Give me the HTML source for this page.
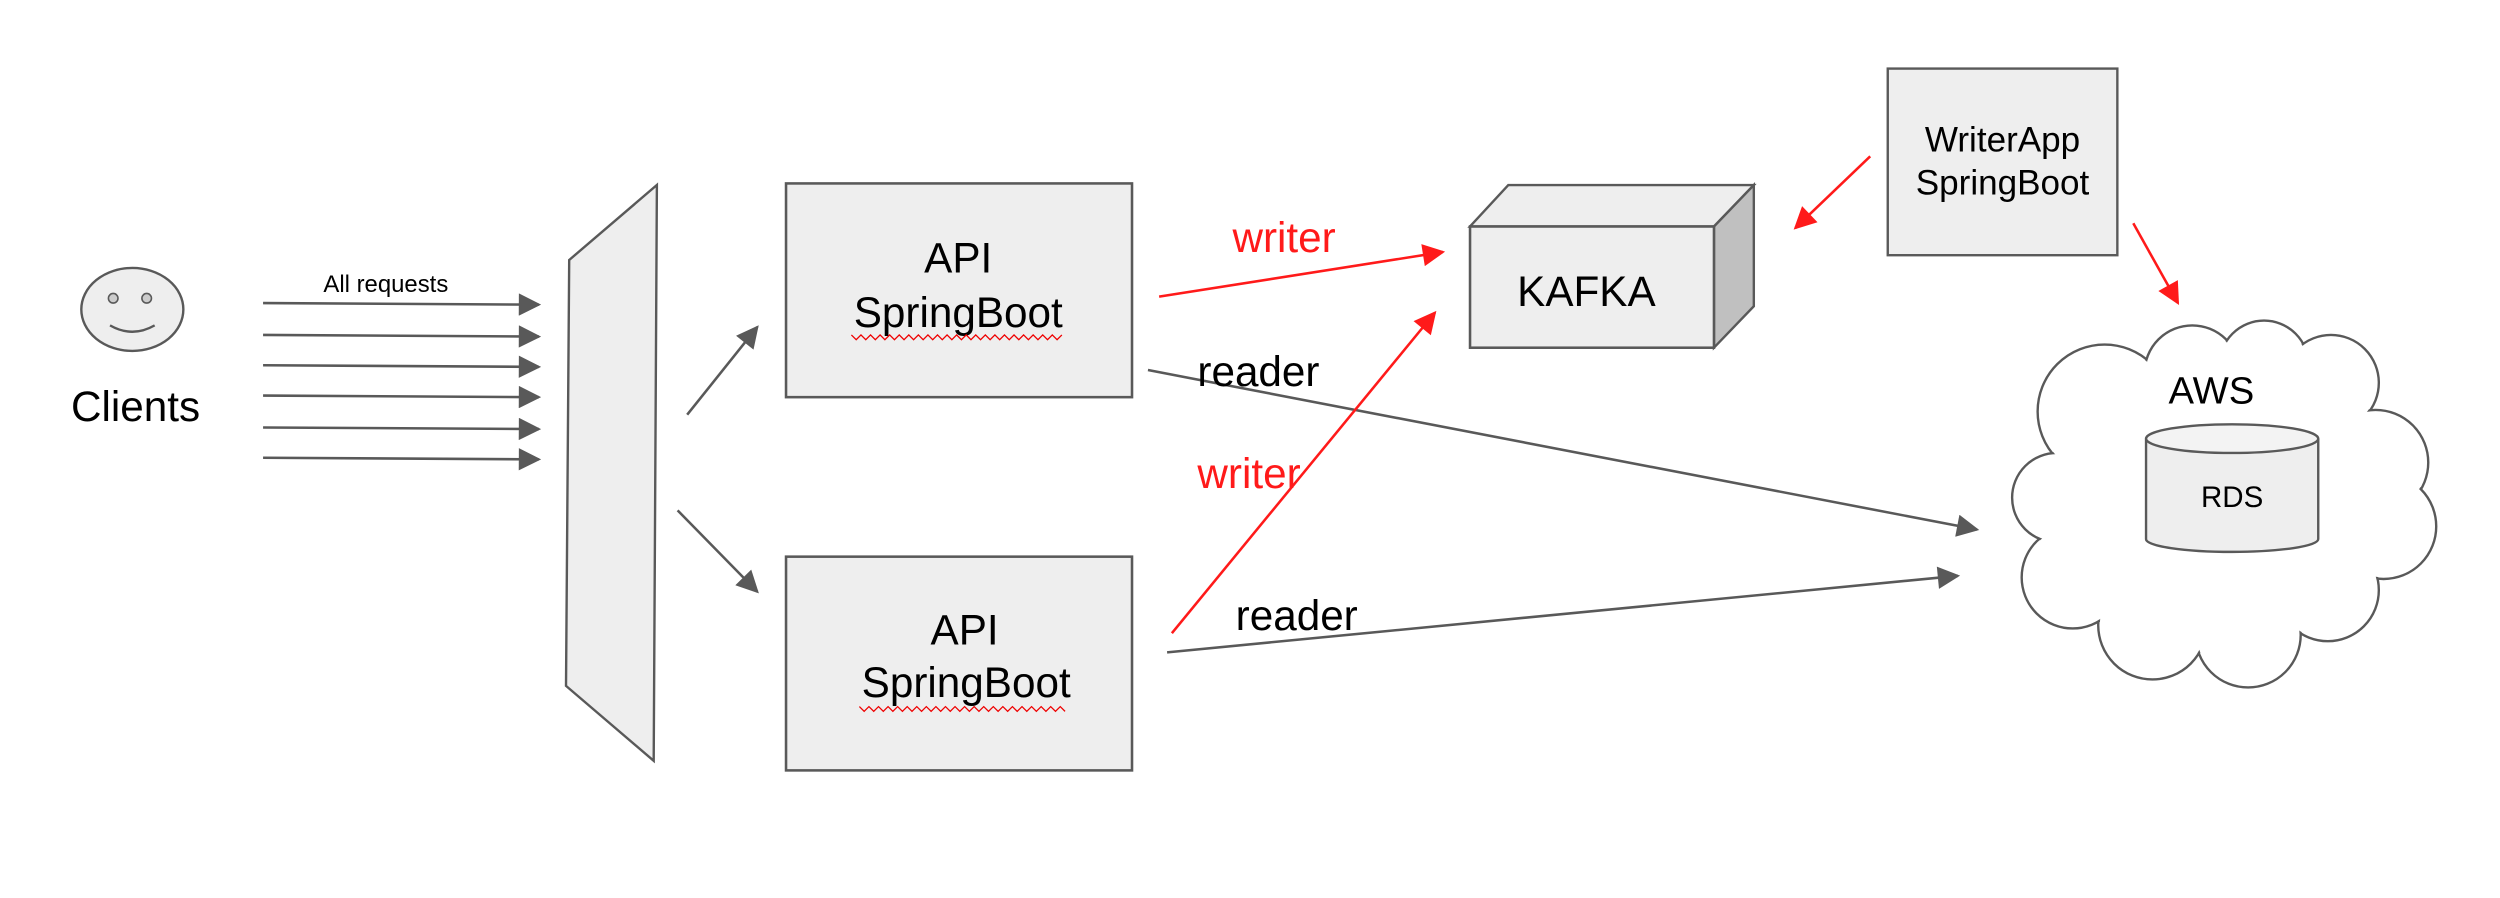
<!DOCTYPE html>
<html><head><meta charset="utf-8"><style>html,body{margin:0;padding:0;background:#fff}svg{display:block}</style></head>
<body>
<svg width="2500" height="898" viewBox="0 0 1568 563" preserveAspectRatio="none" xmlns="http://www.w3.org/2000/svg" font-family="Liberation Sans, sans-serif">
<defs>
<marker id="gb" viewBox="0 0 10 10" refX="9" refY="5" markerWidth="17" markerHeight="14" orient="auto" markerUnits="userSpaceOnUse"><path d="M0,0L10,5L0,10z" fill="#595959"/></marker>
<marker id="r" viewBox="0 0 10 10" refX="9" refY="5" markerWidth="17" markerHeight="14" orient="auto" markerUnits="userSpaceOnUse"><path d="M0,0L10,5L0,10z" fill="#ff1a1a"/></marker>
</defs>
<ellipse cx="83" cy="194" rx="32" ry="26" fill="#eeeeee" stroke="#595959" stroke-width="1.5"/>
<circle cx="71" cy="187" r="3" fill="#ccc" stroke="#595959"/>
<circle cx="92" cy="187" r="3" fill="#ccc" stroke="#595959"/>
<path d="M69,204 Q83,212 97,204" fill="none" stroke="#595959" stroke-width="1.5"/>
<text x="85" y="264" font-size="26.5" text-anchor="middle">Clients</text>
<text x="242" y="183" font-size="15" text-anchor="middle">All requests</text>
<g stroke="#595959" stroke-width="1.6" fill="none" marker-end="url(#gb)">
<line x1="165" y1="190" x2="338" y2="191"/><line x1="165" y1="210" x2="338" y2="211"/>
<line x1="165" y1="229" x2="338" y2="230"/><line x1="165" y1="248" x2="338" y2="249"/>
<line x1="165" y1="268" x2="338" y2="269"/><line x1="165" y1="287" x2="338" y2="288"/>
<line x1="431" y1="260" x2="475" y2="205"/><line x1="425" y1="320" x2="475" y2="371"/>
<line x1="720" y1="232" x2="1240" y2="332"/><line x1="732" y1="409" x2="1228" y2="361"/>
</g>
<polygon points="357,163 412,116 410,477 355,430" fill="#eeeeee" stroke="#595959" stroke-width="1.5"/>
<rect x="493" y="115" width="217" height="134" fill="#eeeeee" stroke="#595959" stroke-width="1.6"/>
<rect x="493" y="349" width="217" height="134" fill="#eeeeee" stroke="#595959" stroke-width="1.6"/>
<g font-size="26.5" text-anchor="middle"><text x="601" y="171">API</text><text x="601" y="205">SpringBoot</text>
<text x="605" y="404">API</text><text x="606" y="437">SpringBoot</text></g>
<g fill="none" stroke="#e00" stroke-width="0.8">
<path d="M534,210 l3,3 3,-3 3,3 3,-3 3,3 3,-3 3,3 3,-3 3,3 3,-3 3,3 3,-3 3,3 3,-3 3,3 3,-3 3,3 3,-3 3,3 3,-3 3,3 3,-3 3,3 3,-3 3,3 3,-3 3,3 3,-3 3,3 3,-3 3,3 3,-3 3,3 3,-3 3,3 3,-3 3,3 3,-3 3,3 3,-3 3,3 3,-3 3,3 3,-3"/>
<path d="M539,443 l3,3 3,-3 3,3 3,-3 3,3 3,-3 3,3 3,-3 3,3 3,-3 3,3 3,-3 3,3 3,-3 3,3 3,-3 3,3 3,-3 3,3 3,-3 3,3 3,-3 3,3 3,-3 3,3 3,-3 3,3 3,-3 3,3 3,-3 3,3 3,-3 3,3 3,-3 3,3 3,-3 3,3 3,-3 3,3 3,-3 3,3 3,-3 3,3"/>
<path d="M1206,100 l3,3 3,-3 3,3 3,-3 3,3 3,-3 3,3 3,-3 3,3 3,-3 3,3 3,-3 3,3 3,-3 3,3 3,-3 3,3 3,-3 3,3 3,-3 3,3 3,-3 3,3 3,-3 3,3 3,-3 3,3 3,-3 3,3"/>
<path d="M1201,127 l3,3 3,-3 3,3 3,-3 3,3 3,-3 3,3 3,-3 3,3 3,-3 3,3 3,-3 3,3 3,-3 3,3 3,-3 3,3 3,-3 3,3 3,-3 3,3 3,-3 3,3 3,-3 3,3 3,-3 3,3 3,-3 3,3 3,-3 3,3 3,-3 3,3 3,-3 3,3"/>
</g>
<polygon points="922,142 946,116 1100,116 1075,142" fill="#eeeeee" stroke="#595959" stroke-width="1.5"/>
<polygon points="1075,142 1100,116 1100,192 1075,218" fill="#c0c0c0" stroke="#595959" stroke-width="1.5"/>
<rect x="922" y="142" width="153" height="76" fill="#eeeeee" stroke="#595959" stroke-width="1.6"/>
<text x="995" y="192" font-size="26.5" text-anchor="middle">KAFKA</text>
<rect x="1184" y="43" width="144" height="117" fill="#eeeeee" stroke="#595959" stroke-width="1.5"/>
<text x="1256" y="95" font-size="22" text-anchor="middle">WriterApp</text>
<text x="1256" y="122" font-size="22" text-anchor="middle">SpringBoot</text>
<g stroke="#595959" stroke-width="1.5" fill="#fff">
<circle cx="1320" cy="258" r="42"/><circle cx="1375" cy="234" r="30"/><circle cx="1420" cy="229" r="28"/><circle cx="1462" cy="240" r="30"/>
<circle cx="1490" cy="290" r="33"/><circle cx="1495" cy="330" r="33"/><circle cx="1460" cy="370" r="32"/><circle cx="1410" cy="398" r="33"/>
<circle cx="1350" cy="392" r="34"/><circle cx="1300" cy="362" r="32"/><circle cx="1290" cy="312" r="28"/>
</g>
<g fill="#fff">
<circle cx="1320" cy="258" r="41"/><circle cx="1375" cy="234" r="29"/><circle cx="1420" cy="229" r="27"/><circle cx="1462" cy="240" r="29"/>
<circle cx="1490" cy="290" r="32"/><circle cx="1495" cy="330" r="32"/><circle cx="1460" cy="370" r="31"/><circle cx="1410" cy="398" r="32"/>
<circle cx="1350" cy="392" r="33"/><circle cx="1300" cy="362" r="31"/><circle cx="1290" cy="312" r="27"/>
<ellipse cx="1395" cy="315" rx="105" ry="75"/>
</g>
<text x="1387" y="253" font-size="24" text-anchor="middle">AWS</text>
<path d="M1346,275 L1346,338 A54,8 0 0 0 1454,338 L1454,275" fill="#eeeeee" stroke="#595959" stroke-width="1.5"/>
<ellipse cx="1400" cy="275" rx="54" ry="9" fill="#f3f3f3" stroke="#595959" stroke-width="1.5"/>
<text x="1400" y="318" font-size="18.5" text-anchor="middle">RDS</text>
<g stroke="#ff1a1a" stroke-width="1.6" fill="none" marker-end="url(#r)">
<line x1="727" y1="186" x2="905" y2="158"/><line x1="735" y1="397" x2="900" y2="196"/>
<line x1="1173" y1="98" x2="1126" y2="143"/><line x1="1338" y1="140" x2="1366" y2="190"/>
</g>
<g font-size="26.5" fill="#ff1a1a"><text x="773" y="158">writer</text><text x="751" y="306">writer</text></g>
<g font-size="26.5" fill="#000"><text x="751" y="242">reader</text><text x="775" y="395">reader</text></g>
</svg>
</body></html>
